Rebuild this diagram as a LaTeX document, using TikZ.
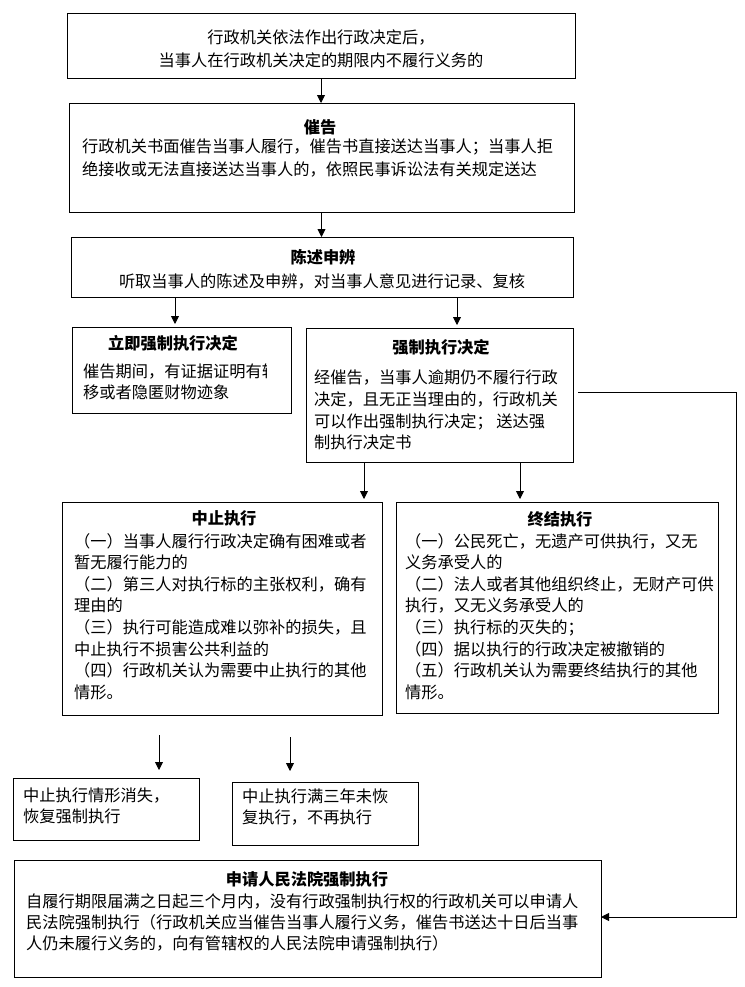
\documentclass[tikz,border=0pt]{standalone}
\usepackage{fontspec}
\setmainfont{Noto Sans CJK SC}
\usetikzlibrary{arrows.meta}
\begin{document}
\begin{tikzpicture}[x=1bp,y=-1bp,
  box/.style={draw, line width=0.9bp, anchor=north west, inner sep=0, outer sep=0},
  txt/.style={anchor=north west, inner sep=0, align=left, font=\fontsize{16.3}{21.7}\selectfont},
  ctxt/.style={anchor=north, inner sep=0, align=center, font=\fontsize{16.3}{22.5}\selectfont},
  ttl/.style={anchor=center, inner sep=0, font=\fontsize{16.3}{20}\selectfont\bfseries},
  arr/.style={line width=0.9bp, -{Triangle[length=8bp,width=8bp]}},
  arrs/.style={arr, shorten >=3bp}]
\useasboundingbox (0,0) rectangle (745,987);
% boxes
\node[box, minimum width=508bp, minimum height=65bp] (b1) at (67,13) {};
\node[box, minimum width=505bp, minimum height=109bp] (b2) at (69,103) {};
\node[box, minimum width=502bp, minimum height=60bp] (b3) at (71,237) {};
\node[box, minimum width=219bp, minimum height=86bp] (b4) at (72,327) {};
\node[box, minimum width=267bp, minimum height=134bp] (b5) at (306,328) {};
\node[box, minimum width=320bp, minimum height=213bp] (b6) at (62,502) {};
\node[box, minimum width=322bp, minimum height=211bp] (b7) at (396,502) {};
\node[box, minimum width=186bp, minimum height=62bp] (b8) at (13,778) {};
\node[box, minimum width=186bp, minimum height=63bp] (b9) at (232,782) {};
\node[box, minimum width=587bp, minimum height=117bp] (b10) at (14,860) {};
% texts
\node[ctxt] (t1) at (321,30) {行政机关依法作出行政决定后，\\当事人在行政机关决定的期限内不履行义务的};
\node[ttl] (h2) at (320,127) {催告};
\node[txt, font=\fontsize{16.3}{23}\selectfont] (t2) at (82,139) {行政机关书面催告当事人履行，催告书直接送达当事人；当事人拒\\绝接收或无法直接送达当事人的，依照民事诉讼法有关规定送达};
\node[ttl] (h3) at (323,257) {陈述申辨};
\node[ctxt] (t3) at (322,274) {听取当事人的陈述及申辨，对当事人意见进行记录、复核};
\node[ttl] (h4) at (173,343) {立即强制执行决定};
\begin{scope}
\clip (80,355) rectangle (266,410);
\node[txt, font=\fontsize{16.3}{21}\selectfont] (t4) at (83,364) {催告期间，有证据证明有转\\移或者隐匿财物迹象};
\end{scope}
\node[ttl] (h5) at (441,347) {强制执行决定};
\node[txt] (t5) at (314,370) {经催告，当事人逾期仍不履行行政\\决定，且无正当理由的，行政机关\\可以作出强制执行决定； 送达强\\制执行决定书};
\node[ttl] (h6) at (224,518) {中止执行};
\node[txt] (t6) at (74,533) {（一）当事人履行行政决定确有困难或者\\暂无履行能力的\\（二）第三人对执行标的主张权利，确有\\理由的\\（三）执行可能造成难以弥补的损失，且\\中止执行不损害公共利益的\\（四）行政机关认为需要中止执行的其他\\情形。};
\node[ttl] (h7) at (560,519) {终结执行};
\node[txt] (t7) at (405,533) {（一）公民死亡，无遗产可供执行，又无\\义务承受人的\\（二）法人或者其他组织终止，无财产可供\\执行，又无义务承受人的\\（三）执行标的灭失的；\\（四）据以执行的行政决定被撤销的\\（五）行政机关认为需要终结执行的其他\\情形。};
\node[txt, font=\fontsize{16.3}{21}\selectfont] (t8) at (23,788) {中止执行情形消失，\\恢复强制执行};
\node[txt, font=\fontsize{16.3}{21}\selectfont] (t9) at (242,789) {中止执行满三年未恢\\复执行，不再执行};
\node[ttl] (h10) at (307,879) {申请人民法院强制执行};
\node[txt, font=\fontsize{16.3}{21}\selectfont] (t10) at (26,894) {自履行期限届满之日起三个月内，没有行政强制执行权的行政机关可以申请人\\民法院强制执行（行政机关应当催告当事人履行义务，催告书送达十日后当事\\人仍未履行义务的，向有管辖权的人民法院申请强制执行）};
% connectors
\coordinate (c175) at (175,0);
\coordinate (c457) at (457,0);
\coordinate (c364) at (364,0);
\coordinate (c520) at (520,0);
\draw[arr] (b1.south) -- (b1.south |- b2.north);
\draw[arr] (b2.south) -- (b2.south |- b3.north);
\draw[arrs] (b3.south -| c175) -- (b4.north -| c175);
\draw[arrs] (b3.south -| c457) -- (b5.north -| c457);
\draw[arrs] (b5.south -| c364) -- (b6.north -| c364);
\draw[arrs] (b5.south -| c520) -- (b7.north -| c520);
\coordinate (f1a) at (159,735);
\coordinate (f1b) at (159,770);
\coordinate (f2a) at (290,737);
\coordinate (f2b) at (290,771);
\draw[arr] (f1a) -- (f1b);
\draw[arr] (f2a) -- (f2b);
\coordinate (r1) at (736,392);
\coordinate (r2) at (736,917);
\draw[arr] (b5.east |- r1) ++(5,0) -- (r1) -- (r2) -- (b10.east |- r2);
\end{tikzpicture}
\end{document}
